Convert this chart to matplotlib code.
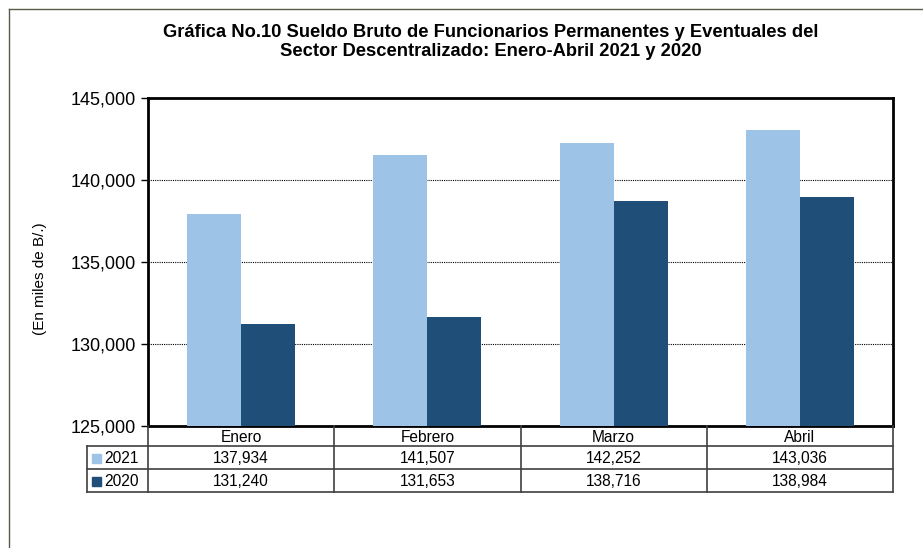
import matplotlib
matplotlib.use('Agg')
import matplotlib.pyplot as plt
import numpy as np
from matplotlib.lines import Line2D
from matplotlib.patches import Rectangle

plt.rcParams['font.family'] = ['Liberation Sans', 'DejaVu Sans']

# data
meses = ['Enero', 'Febrero', 'Marzo', 'Abril']
series = ['2021', '2020']
v2021 = [137934, 141507, 142252, 143036]
v2020 = [131240, 131653, 138716, 138984]
yticks = [125000, 130000, 135000, 140000, 145000]
titulo = ('Gráfica No.10 Sueldo Bruto de Funcionarios Permanentes y Eventuales del\n'
          'Sector Descentralizado: Enero-Abril 2021 y 2020')
ylabel = '(En miles de B/.)'

colors = ['#9dc3e6', '#1f4e79']
W, H = 923, 548

fig = plt.figure(figsize=(W / 100, H / 100), dpi=100)

# plot area in pixels
L, R, T, B = 148, 893, 98, 426
ax = fig.add_axes([L / W, 1 - B / H, (R - L) / W, (B - T) / H])

x = np.arange(len(meses))
bw = 0.29
ax.bar(x - bw / 2, v2021, bw, color=colors[0], zorder=3)
ax.bar(x + bw / 2, v2020, bw, color=colors[1], zorder=3)

ax.set_xlim(-0.5, len(meses) - 0.5)
ax.set_ylim(yticks[0], yticks[-1])
ax.set_yticks(yticks)
ax.set_yticklabels([f'{t:,}' for t in yticks], fontsize=13)
ax.set_xticks([])
ax.tick_params(axis='y', length=5, width=1, pad=4)
ax.yaxis.grid(True, linestyle=(0, (1, 1)), color='black', linewidth=0.8, zorder=0)
for s in ax.spines.values():
    s.set_linewidth(2)
    s.set_color('black')

fig.text(40 / W, 1 - 279 / H, ylabel, rotation=90, ha='center', va='center', fontsize=11)

fig.text(491 / W, 1 - 42 / H, titulo, ha='center', va='center',
         fontsize=13.2, fontweight='bold', linespacing=1.12)

# table under the axes, drawn on an overlay in pixel coordinates
ov = fig.add_axes([0, 0, 1, 1], zorder=5)
ov.set_xlim(0, W)
ov.set_ylim(H, 0)
ov.axis('off')

lc = '#404040'
colw = (R - L) / len(meses)
xl = 87
rows = [B, 446, 469, 492]
for yy in rows[1:]:
    ov.add_line(Line2D([xl, R], [yy, yy], color=lc, lw=1.2))
ov.add_line(Line2D([xl, xl], [rows[1], rows[3]], color=lc, lw=1.2))
for i in range(len(meses) + 1):
    xx = L + i * colw
    ov.add_line(Line2D([xx, xx], [B, rows[3]], color=lc, lw=1.2))

fs = 11.2
for i, m in enumerate(meses):
    cx = L + (i + 0.5) * colw
    ov.text(cx, (rows[0] + rows[1]) / 2 + 1, m, ha='center', va='center', fontsize=fs)
    ov.text(cx, (rows[1] + rows[2]) / 2 + 1, f'{v2021[i]:,}', ha='center', va='center', fontsize=fs)
    ov.text(cx, (rows[2] + rows[3]) / 2 + 1, f'{v2020[i]:,}', ha='center', va='center', fontsize=fs)

for j, (name, c) in enumerate(zip(series, colors)):
    cy = (rows[j + 1] + rows[j + 2]) / 2
    ov.add_patch(Rectangle((92, cy - 4), 9, 9, color=c))
    ov.text(104, cy + 1, name, ha='left', va='center', fontsize=fs)

# outer chart frame
fc = '#5a5a4a'
ov.add_line(Line2D([9, W], [8.5, 8.5], color=fc, lw=1))
ov.add_line(Line2D([9, 9], [8.5, H], color=fc, lw=1))

fig.savefig('out.png', dpi=100)
